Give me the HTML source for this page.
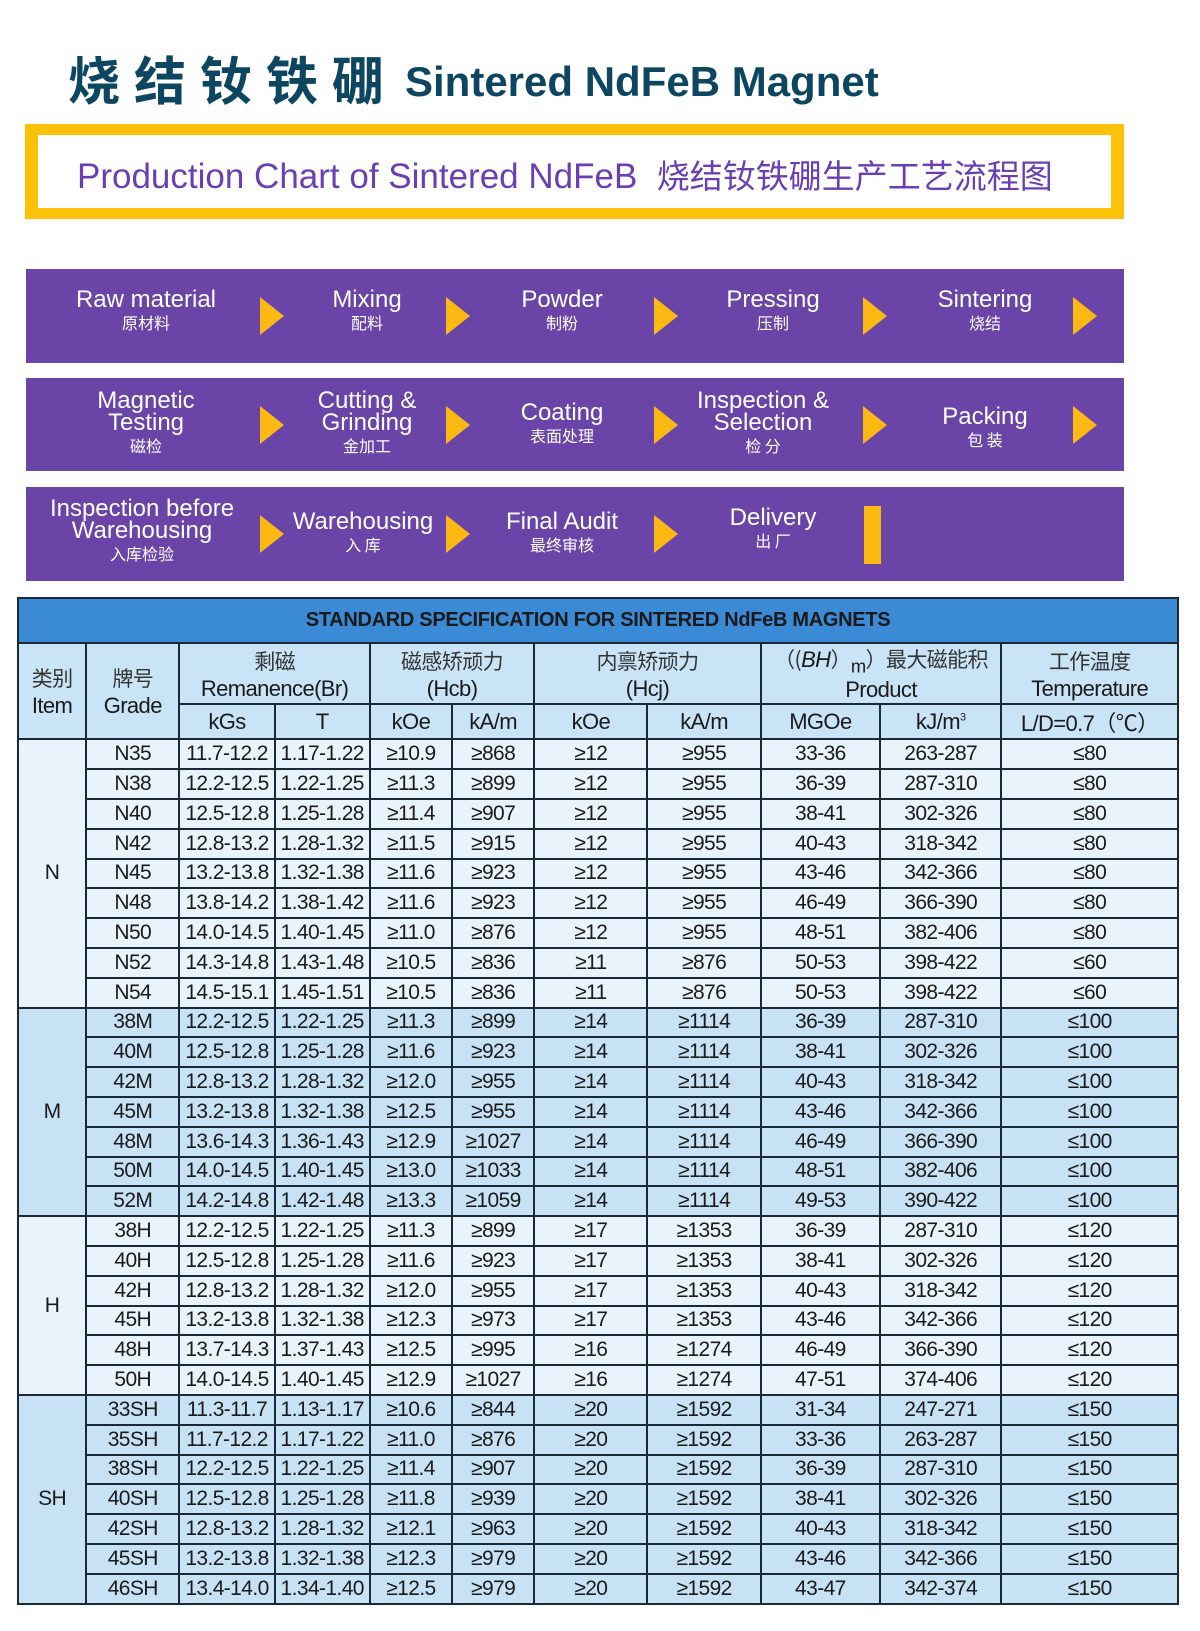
<!DOCTYPE html>
<html><head><meta charset="utf-8"><style>
body{margin:0;width:1200px;height:1631px;background:#fff;position:relative;overflow:hidden;font-family:"Liberation Sans","Noto Sans CJK SC",sans-serif}
.abs{position:absolute}
.t1{left:68px;top:40px;font-size:52px;font-weight:bold;color:#0d4660;letter-spacing:14px;font-family:"Noto Sans CJK SC",sans-serif}
.t2{left:405px;top:58px;font-size:42px;font-weight:bold;color:#0d4660}
.ybox{left:25px;top:124px;width:1099px;height:95px;background:#fcc20a}
.wbox{left:38px;top:135px;width:1073px;height:73px;background:#fff}
.ptxt{left:77px;top:150px;font-size:35px;color:#6b3fb3;white-space:nowrap}
.band{left:26px;width:1098px;height:94px;background:#6a44a6}
.step{position:absolute;width:220px;margin-left:-110px;text-align:center;color:#fff;font-size:24px;line-height:22px}
.step small{display:block;font-size:16px;line-height:22px;font-family:"Noto Sans CJK SC",sans-serif}
.arr{position:absolute;width:0;height:0;border-top:19px solid transparent;border-bottom:19px solid transparent;border-left:24px solid #fcb813;top:28px}
table{position:absolute;left:17px;top:597px;border-collapse:collapse;table-layout:fixed;width:1162px}
td{border:2px solid #1b2836;text-align:center;padding:0;font-size:21px;color:#1a1a1a;white-space:nowrap;overflow:hidden;letter-spacing:-0.6px}
.tt td{background:#3a8ad6;height:43px;font-weight:bold;font-size:20px;letter-spacing:-0.3px}
.h td{background:#c9e4f6;font-size:22px}
.L td{background:#e8f3fb;height:27.8px}
.D td{background:#c7e2f5;height:27.8px}
.cn{font-family:"Noto Sans CJK SC",sans-serif;color:#333;font-size:21px}
</style></head><body>
<div class="abs t1">烧结钕铁硼</div>
<div class="abs t2">Sintered NdFeB Magnet</div>
<div class="abs ybox"></div><div class="abs wbox"></div>
<div class="abs ptxt">Production Chart of Sintered NdFeB &nbsp;<span style="font-family:'Noto Sans CJK SC',sans-serif;font-size:33px">烧结钕铁硼生产工艺流程图</span></div>

<div class="abs band" style="top:269px">
<div class="step" style="left:120px;top:20px">Raw material<small>原材料</small></div>
<div class="step" style="left:341px;top:20px">Mixing<small>配料</small></div>
<div class="step" style="left:536px;top:20px">Powder<small>制粉</small></div>
<div class="step" style="left:747px;top:20px">Pressing<small>压制</small></div>
<div class="step" style="left:959px;top:20px">Sintering<small>烧结</small></div>
<div class="arr" style="left:234px"></div><div class="arr" style="left:420px"></div><div class="arr" style="left:628px"></div><div class="arr" style="left:837px"></div><div class="arr" style="left:1047px"></div>
</div>
<div class="abs band" style="top:378px;height:93px">
<div class="step" style="left:120px;top:12px">Magnetic<br>Testing<small>磁检</small></div>
<div class="step" style="left:341px;top:12px">Cutting &amp;<br>Grinding<small>金加工</small></div>
<div class="step" style="left:536px;top:24px">Coating<small>表面处理</small></div>
<div class="step" style="left:737px;top:12px">Inspection &amp;<br>Selection<small>检 分</small></div>
<div class="step" style="left:959px;top:28px">Packing<small>包 装</small></div>
<div class="arr" style="left:234px"></div><div class="arr" style="left:420px"></div><div class="arr" style="left:628px"></div><div class="arr" style="left:837px"></div><div class="arr" style="left:1047px"></div>
</div>
<div class="abs band" style="top:487px">
<div class="step" style="left:116px;top:11px">Inspection before<br>Warehousing<small>入库检验</small></div>
<div class="step" style="left:337px;top:24px">Warehousing<small>入 库</small></div>
<div class="step" style="left:536px;top:24px">Final Audit<small>最终审核</small></div>
<div class="step" style="left:747px;top:20px">Delivery<small>出 厂</small></div>
<div class="arr" style="left:234px"></div><div class="arr" style="left:420px"></div><div class="arr" style="left:628px"></div>
<div style="position:absolute;left:838px;top:19px;width:17px;height:58px;background:#fcb813"></div>
</div>

<table>
<colgroup><col style="width:68px"><col style="width:93px"><col style="width:95px"><col style="width:95px"><col style="width:82px"><col style="width:82px"><col style="width:113px"><col style="width:113px"><col style="width:119px"><col style="width:121px"><col style="width:176px"></colgroup>
<tr class="tt"><td colspan="11">STANDARD SPECIFICATION FOR SINTERED NdFeB MAGNETS</td></tr>
<tr class="h" style="height:61px"><td rowspan="2"><span class="cn">类别</span><br>Item</td><td rowspan="2"><span class="cn">牌号</span><br>Grade</td><td colspan="2"><span class="cn">剩磁</span><br>Remanence(Br)</td><td colspan="2"><span class="cn">磁感矫顽力</span><br>(Hcb)</td><td colspan="2"><span class="cn">内禀矫顽力</span><br>(Hcj)</td><td colspan="2"><span class="cn">（(</span><i>BH</i><span class="cn">）</span><sub>m</sub><span class="cn">）最大磁能积</span><br>Product</td><td><span class="cn">工作温度</span><br>Temperature</td></tr>
<tr class="h" style="height:35px"><td>kGs</td><td>T</td><td>kOe</td><td>kA/m</td><td>kOe</td><td>kA/m</td><td>MGOe</td><td>kJ/m<sup style="font-size:11px">3</sup></td><td>L/D=0.7（℃）</td></tr>
<tr class="L"><td rowspan="9">N</td><td>N35</td><td>11.7-12.2</td><td>1.17-1.22</td><td>≥10.9</td><td>≥868</td><td>≥12</td><td>≥955</td><td>33-36</td><td>263-287</td><td>≤80</td></tr>
<tr class="L"><td>N38</td><td>12.2-12.5</td><td>1.22-1.25</td><td>≥11.3</td><td>≥899</td><td>≥12</td><td>≥955</td><td>36-39</td><td>287-310</td><td>≤80</td></tr>
<tr class="L"><td>N40</td><td>12.5-12.8</td><td>1.25-1.28</td><td>≥11.4</td><td>≥907</td><td>≥12</td><td>≥955</td><td>38-41</td><td>302-326</td><td>≤80</td></tr>
<tr class="L"><td>N42</td><td>12.8-13.2</td><td>1.28-1.32</td><td>≥11.5</td><td>≥915</td><td>≥12</td><td>≥955</td><td>40-43</td><td>318-342</td><td>≤80</td></tr>
<tr class="L"><td>N45</td><td>13.2-13.8</td><td>1.32-1.38</td><td>≥11.6</td><td>≥923</td><td>≥12</td><td>≥955</td><td>43-46</td><td>342-366</td><td>≤80</td></tr>
<tr class="L"><td>N48</td><td>13.8-14.2</td><td>1.38-1.42</td><td>≥11.6</td><td>≥923</td><td>≥12</td><td>≥955</td><td>46-49</td><td>366-390</td><td>≤80</td></tr>
<tr class="L"><td>N50</td><td>14.0-14.5</td><td>1.40-1.45</td><td>≥11.0</td><td>≥876</td><td>≥12</td><td>≥955</td><td>48-51</td><td>382-406</td><td>≤80</td></tr>
<tr class="L"><td>N52</td><td>14.3-14.8</td><td>1.43-1.48</td><td>≥10.5</td><td>≥836</td><td>≥11</td><td>≥876</td><td>50-53</td><td>398-422</td><td>≤60</td></tr>
<tr class="L"><td>N54</td><td>14.5-15.1</td><td>1.45-1.51</td><td>≥10.5</td><td>≥836</td><td>≥11</td><td>≥876</td><td>50-53</td><td>398-422</td><td>≤60</td></tr>
<tr class="D"><td rowspan="7">M</td><td>38M</td><td>12.2-12.5</td><td>1.22-1.25</td><td>≥11.3</td><td>≥899</td><td>≥14</td><td>≥1114</td><td>36-39</td><td>287-310</td><td>≤100</td></tr>
<tr class="D"><td>40M</td><td>12.5-12.8</td><td>1.25-1.28</td><td>≥11.6</td><td>≥923</td><td>≥14</td><td>≥1114</td><td>38-41</td><td>302-326</td><td>≤100</td></tr>
<tr class="D"><td>42M</td><td>12.8-13.2</td><td>1.28-1.32</td><td>≥12.0</td><td>≥955</td><td>≥14</td><td>≥1114</td><td>40-43</td><td>318-342</td><td>≤100</td></tr>
<tr class="D"><td>45M</td><td>13.2-13.8</td><td>1.32-1.38</td><td>≥12.5</td><td>≥955</td><td>≥14</td><td>≥1114</td><td>43-46</td><td>342-366</td><td>≤100</td></tr>
<tr class="D"><td>48M</td><td>13.6-14.3</td><td>1.36-1.43</td><td>≥12.9</td><td>≥1027</td><td>≥14</td><td>≥1114</td><td>46-49</td><td>366-390</td><td>≤100</td></tr>
<tr class="D"><td>50M</td><td>14.0-14.5</td><td>1.40-1.45</td><td>≥13.0</td><td>≥1033</td><td>≥14</td><td>≥1114</td><td>48-51</td><td>382-406</td><td>≤100</td></tr>
<tr class="D"><td>52M</td><td>14.2-14.8</td><td>1.42-1.48</td><td>≥13.3</td><td>≥1059</td><td>≥14</td><td>≥1114</td><td>49-53</td><td>390-422</td><td>≤100</td></tr>
<tr class="L"><td rowspan="6">H</td><td>38H</td><td>12.2-12.5</td><td>1.22-1.25</td><td>≥11.3</td><td>≥899</td><td>≥17</td><td>≥1353</td><td>36-39</td><td>287-310</td><td>≤120</td></tr>
<tr class="L"><td>40H</td><td>12.5-12.8</td><td>1.25-1.28</td><td>≥11.6</td><td>≥923</td><td>≥17</td><td>≥1353</td><td>38-41</td><td>302-326</td><td>≤120</td></tr>
<tr class="L"><td>42H</td><td>12.8-13.2</td><td>1.28-1.32</td><td>≥12.0</td><td>≥955</td><td>≥17</td><td>≥1353</td><td>40-43</td><td>318-342</td><td>≤120</td></tr>
<tr class="L"><td>45H</td><td>13.2-13.8</td><td>1.32-1.38</td><td>≥12.3</td><td>≥973</td><td>≥17</td><td>≥1353</td><td>43-46</td><td>342-366</td><td>≤120</td></tr>
<tr class="L"><td>48H</td><td>13.7-14.3</td><td>1.37-1.43</td><td>≥12.5</td><td>≥995</td><td>≥16</td><td>≥1274</td><td>46-49</td><td>366-390</td><td>≤120</td></tr>
<tr class="L"><td>50H</td><td>14.0-14.5</td><td>1.40-1.45</td><td>≥12.9</td><td>≥1027</td><td>≥16</td><td>≥1274</td><td>47-51</td><td>374-406</td><td>≤120</td></tr>
<tr class="D"><td rowspan="7">SH</td><td>33SH</td><td>11.3-11.7</td><td>1.13-1.17</td><td>≥10.6</td><td>≥844</td><td>≥20</td><td>≥1592</td><td>31-34</td><td>247-271</td><td>≤150</td></tr>
<tr class="D"><td>35SH</td><td>11.7-12.2</td><td>1.17-1.22</td><td>≥11.0</td><td>≥876</td><td>≥20</td><td>≥1592</td><td>33-36</td><td>263-287</td><td>≤150</td></tr>
<tr class="D"><td>38SH</td><td>12.2-12.5</td><td>1.22-1.25</td><td>≥11.4</td><td>≥907</td><td>≥20</td><td>≥1592</td><td>36-39</td><td>287-310</td><td>≤150</td></tr>
<tr class="D"><td>40SH</td><td>12.5-12.8</td><td>1.25-1.28</td><td>≥11.8</td><td>≥939</td><td>≥20</td><td>≥1592</td><td>38-41</td><td>302-326</td><td>≤150</td></tr>
<tr class="D"><td>42SH</td><td>12.8-13.2</td><td>1.28-1.32</td><td>≥12.1</td><td>≥963</td><td>≥20</td><td>≥1592</td><td>40-43</td><td>318-342</td><td>≤150</td></tr>
<tr class="D"><td>45SH</td><td>13.2-13.8</td><td>1.32-1.38</td><td>≥12.3</td><td>≥979</td><td>≥20</td><td>≥1592</td><td>43-46</td><td>342-366</td><td>≤150</td></tr>
<tr class="D"><td>46SH</td><td>13.4-14.0</td><td>1.34-1.40</td><td>≥12.5</td><td>≥979</td><td>≥20</td><td>≥1592</td><td>43-47</td><td>342-374</td><td>≤150</td></tr>
</table>
</body></html>
